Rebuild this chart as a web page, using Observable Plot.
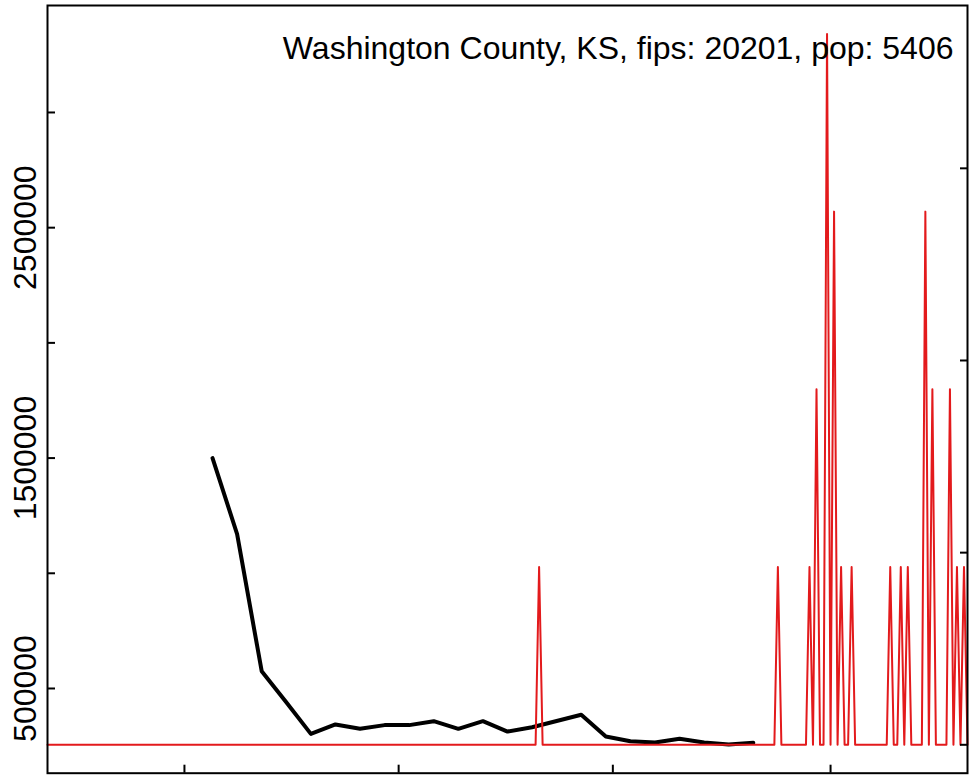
<!DOCTYPE html>
<html>
<head>
<meta charset="utf-8">
<script src="https://cdn.jsdelivr.net/npm/d3@7"></script>
<script src="https://cdn.jsdelivr.net/npm/@observablehq/plot@0.6"></script>
<style>html,body{margin:0;padding:0;background:#fff;}</style>
</head>
<body>
<div id="chart"></div>
<script>
const title = "Washington County, KS, fips: 20201, pop: 5406";
const population = 5406;

// weekly series (left axis)
const blackDates = ["2020-03-09","2020-03-16","2020-03-23","2020-03-30","2020-04-06","2020-04-13",
  "2020-04-20","2020-04-27","2020-05-04","2020-05-11","2020-05-18","2020-05-25","2020-06-01",
  "2020-06-08","2020-06-15","2020-06-22","2020-06-29","2020-07-06","2020-07-13","2020-07-20",
  "2020-07-27","2020-08-03","2020-08-10"];
const blackValues = [1500000,1170000,575000,440000,303000,344000,
  325000,341000,341000,358000,325000,358000,313000,
  332000,359000,386000,292000,271000,266000,282000,
  266000,257000,264000];

// daily new cases (right axis, as % of population), starting 2020-01-22
const redStart = "2020-01-22";
const redCounts = [
  0,0,0,0,0,0,0,0,0,0, 0,0,0,0,0,0,0,0,0,0, 0,0,0,0,0,0,0,0,0,0,
  0,0,0,0,0,0,0,0,0,0, 0,0,0,0,0,0,0,0,0,0, 0,0,0,0,0,0,0,0,0,0,
  0,0,0,0,0,0,0,0,0,0, 0,0,0,0,0,0,0,0,0,0, 0,0,0,0,0,0,0,0,0,0,
  0,0,0,0,0,0,0,0,0,0, 0,0,0,0,0,0,0,0,0,0, 0,0,0,0,0,0,0,0,0,0,
  0,0,0,0,0,0,0,0,0,0, 0,0,0,0,0,0,0,0,0,0,
  1,0,0,0,0,0,0,0,0,0,
  0,0,0,0,0,0,0,0,0,0, 0,0,0,0,0,0,0,0,0,0, 0,0,0,0,0,0,0,0,0,0,
  0,0,0,0,0,0,0,0,0,0, 0,0,0,0,0,0,0,0,0,0,
  0,0,0,0,0,0,0,0,1,0,
  0,0,0,0,0,0,0,1,0,2,
  0,0,4,0,3,0,1,0,0,1,
  0,0,0,0,0,0,0,0,0,0,
  1,0,0,1,0,1,0,0,0,0,
  3,0,2,0,0,0,0,2,0,1,
  0,1,0
];

const leftTicks = [500000,1000000,1500000,2000000,2500000,3000000];
const leftTickLabels = [500000,1500000,2500000];
const rightTicks = [0,0.02,0.04,0.06];
const xTicks = ["2020-03-01","2020-05-01","2020-07-01","2020-09-01"];
const xDomain = ["2020-01-22","2020-10-10"];
const yDomain = [255600,3341000];

const parse = d3.utcParse("%Y-%m-%d");
const black = blackDates.map((d,i) => ({date: parse(d), value: blackValues[i]}));
const start = parse(redStart);
const redPct = redCounts.map(c => c / population * 100);
const toLeft = d3.scaleLinear([0, d3.max(redPct)], yDomain);
const red = redCounts.map((c,i) => ({date: d3.utcDay.offset(start, i), y: toLeft(redPct[i])}));

const font = "'Liberation Sans', Arial, Helvetica, sans-serif";

const chart = Plot.plot({
  width: 974,
  height: 778,
  marginLeft: 47,
  marginRight: 7,
  marginTop: 5,
  marginBottom: 5.3,
  x: {type: "utc", domain: xDomain.map(parse), axis: null},
  y: {domain: yDomain, insetTop: 28.4, insetBottom: 28.4, axis: null},
  style: {fontFamily: font, background: "white", color: "black"},
  marks: [
    Plot.line(black, {x: "date", y: "value", stroke: "black", strokeWidth: 4, strokeLinejoin: "round", strokeLinecap: "round"}),
    Plot.line(red, {x: "date", y: "y", stroke: "#e31a1c", strokeWidth: 2}),
    Plot.axisY(leftTicks, {anchor: "left", tickSize: 8, dx: 8, fill: "none", label: null, strokeWidth: 2}),
    Plot.axisY(rightTicks.map(toLeft), {anchor: "right", tickSize: 8, dx: -8, fill: "none", label: null, strokeWidth: 2}),
    Plot.axisX(xTicks.map(parse), {anchor: "bottom", tickSize: 8, dy: -8, fill: "none", label: null, strokeWidth: 2}),
    Plot.text(leftTickLabels, {y: d => d, text: d => String(d), frameAnchor: "left", dx: -12, rotate: -90,
      textAnchor: "middle", lineAnchor: "bottom", fontSize: 32, fill: "black"}),
    Plot.frame({stroke: "black", strokeWidth: 2}),
    Plot.text([title], {text: d => d, frameAnchor: "top-right", dx: -14, dy: 53, textAnchor: "end",
      lineAnchor: "bottom", fontSize: 32, fill: "black"})
  ]
});
document.getElementById("chart").appendChild(chart);
</script>
</body>
</html>
